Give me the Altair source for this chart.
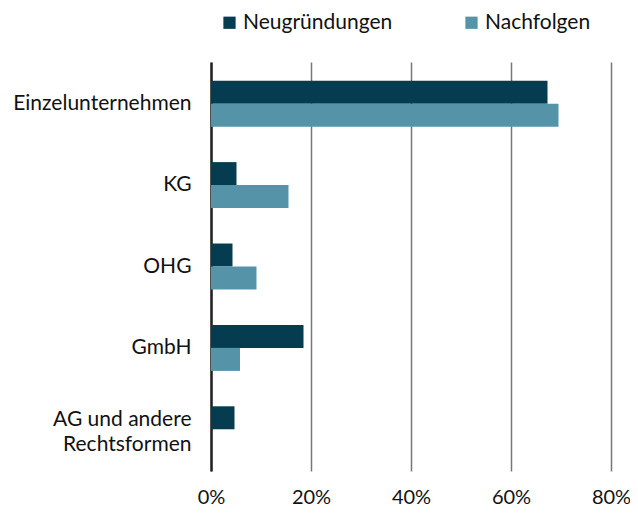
import altair as alt
import pandas as pd

categories = ["Einzelunternehmen", "KG", "OHG", "GmbH", "AG und andere Rechtsformen"]
series = ["Neugründungen", "Nachfolgen"]
neugruendungen = [67.3, 5.1, 4.3, 18.5, 4.7]
nachfolgen = [69.5, 15.5, 9.1, 5.8, 0.0]
x_ticks = [0, 20, 40, 60, 80]
colors = ["#053c50", "#5594a8"]

rows = []
for c, a, b in zip(categories, neugruendungen, nachfolgen):
    rows.append({"Kategorie": c, "Serie": series[0], "Wert": a / 100})
    rows.append({"Kategorie": c, "Serie": series[1], "Wert": b / 100})
df = pd.DataFrame(rows)

FONT = "Lato"
FS = 21

chart = alt.Chart(df).mark_bar().encode(
    y=alt.Y("Kategorie:N", sort=categories, title=None,
            scale=alt.Scale(paddingInner=0.435, paddingOuter=0.23),
            axis=alt.Axis(labelExpr="datum.label == 'AG und andere Rechtsformen' ? ['AG und andere', 'Rechtsformen'] : datum.label",
                          labelFontSize=FS, labelFont=FONT, labelColor="#111",
                          labelPadding=20, ticks=False, domain=True,
                          domainColor="#222", domainWidth=2.5, labelLineHeight=25,
                          labelOffset={"condition": {"test": "datum.label == 'AG und andere Rechtsformen'", "value": -9}, "value": 0})),
    yOffset=alt.YOffset("Serie:N", sort=series),
    x=alt.X("Wert:Q", title=None,
            scale=alt.Scale(domain=[0, 0.8], nice=False),
            axis=alt.Axis(values=[v / 100 for v in x_ticks], format=".0%", grid=True,
                          gridColor="#777", gridWidth=1.5, domain=False, ticks=False,
                          labelFontSize=20, labelFont=FONT, labelColor="#111",
                          labelPadding=16, labelFlush=False)),
    color=alt.Color("Serie:N", sort=series,
                    scale=alt.Scale(domain=series, range=colors),
                    legend=alt.Legend(title=None, orient="none", direction="horizontal",
                                      legendX=8, legendY=-50, symbolType="square",
                                      symbolSize=150, symbolStrokeWidth=0,
                                      labelFontSize=FS, labelFont=FONT, labelColor="#111",
                                      labelOffset=3, columnPadding=68)),
).properties(
    width=400, height=409,
    autosize=alt.AutoSizeParams(type="none"),
    padding={"left": 203, "top": 54, "right": 19, "bottom": 40},
).configure_view(stroke=None)

chart.save("out.html", embed_options={"renderer": "svg", "actions": False})
